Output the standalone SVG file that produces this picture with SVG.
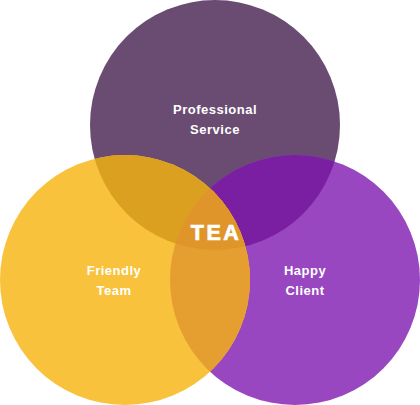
<svg xmlns="http://www.w3.org/2000/svg" width="420" height="405" viewBox="0 0 420 405">
<style>
.lbl{font-family:"Liberation Sans",Arial,sans-serif;font-weight:bold;font-size:13px;fill:#fff;text-anchor:middle;letter-spacing:0.5px}
.tea{font-family:"Liberation Sans",Arial,sans-serif;font-weight:bold;font-size:21.5px;fill:#fff;text-anchor:middle;letter-spacing:2.5px;stroke:#fff;stroke-width:0.7}
</style>
<defs>
<clipPath id="cTop"><circle cx="215" cy="125" r="125"/></clipPath>
<clipPath id="cLeft"><circle cx="125" cy="280" r="125"/></clipPath>
<clipPath id="cRight"><circle cx="295" cy="280" r="125"/></clipPath>
</defs>
<rect width="420" height="405" fill="#fff"/>
<g id="professional-service">
<circle cx="215" cy="125" r="125" fill="#6A4C72"/>
<text class="lbl" x="215" y="114">Professional</text>
<text class="lbl" x="215" y="134">Service</text>
</g>
<g id="happy-client">
<circle cx="295" cy="280" r="125" fill="#9847C0"/>
<circle cx="215" cy="125" r="125" fill="#7A1FA2" clip-path="url(#cRight)"/>
</g>
<g id="friendly-team">
<circle cx="125" cy="280" r="125" fill="#F9C23C"/>
<circle cx="215" cy="125" r="125" fill="#DBA020" clip-path="url(#cLeft)"/>
<g clip-path="url(#cLeft)"><circle cx="295" cy="280" r="125" fill="#E59F30"/></g>
<g clip-path="url(#cTop)"><g clip-path="url(#cLeft)"><circle cx="295" cy="280" r="125" fill="#E0952A"/></g></g>
</g>
<g id="labels">
<text class="lbl" x="114" y="275">Friendly</text>
<text class="lbl" x="114" y="295">Team</text>
<text class="lbl" x="305" y="275">Happy</text>
<text class="lbl" x="305" y="295">Client</text>
<text class="tea" x="216" y="239.5">TEA</text>
</g>
<g id="connectors"/>
</svg>
